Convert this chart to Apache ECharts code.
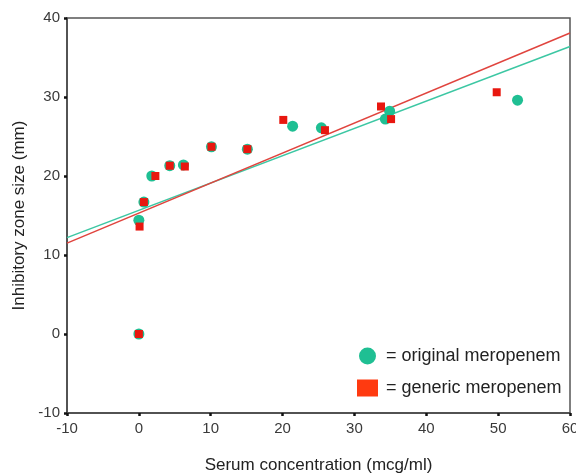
<!DOCTYPE html>
<html><head><meta charset="utf-8">
<script src="https://cdn.jsdelivr.net/npm/echarts@6/dist/echarts.min.js"></script>
<style>html,body{margin:0;padding:0;background:#fff}#c{width:576px;height:475px}</style>
</head><body><div id="c"></div>
<script>
// Original meropenem [serum concentration, zone size]
const originalX = [0, 0, 0.7, 1.8, 4.3, 6.2, 10.1, 15.1, 21.4, 25.4, 34.9, 34.3, 52.7];
const originalY = [0, 14.4, 16.7, 20.0, 21.3, 21.4, 23.7, 23.4, 26.3, 26.1, 28.2, 27.2, 29.6];
// Generic meropenem
const genericX = [0, 0.1, 0.7, 2.3, 4.3, 6.4, 10.1, 15.1, 20.1, 25.9, 33.7, 35.1, 49.8];
const genericY = [0, 13.6, 16.7, 20.0, 21.3, 21.2, 23.7, 23.4, 27.1, 25.8, 28.8, 27.2, 30.6];
// Fit line endpoints
const originalFitX = [-10, 60];
const originalFitY = [12.2, 36.4];
const genericFitX = [-10, 60];
const genericFitY = [11.5, 38.1];
const xTicks = [-10, 0, 10, 20, 30, 40, 50, 60];
const yTicks = [-10, 0, 10, 20, 30, 40];

const GREEN = '#1fbf93', RED = '#e8170f';
const zip = (a, b) => a.map((v, i) => [v, b[i]]);

const chart = echarts.init(document.getElementById('c'), null, {renderer: 'canvas'});
chart.setOption({
  animation: false,
  backgroundColor: '#fff',
  textStyle: {fontFamily: 'Liberation Sans, Arial, sans-serif'},
  grid: {left: 67, right: 6, top: 18, bottom: 62, show: true, borderColor: '#555', borderWidth: 1.5,
         containLabel: false, outerBoundsMode: 'none'},
  legend: {
    orient: 'vertical', left: 352, top: 342, itemGap: 14, itemWidth: 21, itemHeight: 17,
    data: [
      {name: 'original meropenem', icon: 'circle', itemStyle: {color: GREEN}},
      {name: 'generic meropenem', icon: 'rect', itemStyle: {color: '#ff3a10'}}
    ],
    formatter: n => '= ' + n,
    textStyle: {fontSize: 18, lineHeight: 18, color: '#222', padding: [0, 0, 0, 3]}
  },
  xAxis: {
    type: 'value', min: xTicks[0], max: xTicks[xTicks.length - 1], interval: 10,
    name: 'Serum concentration (mcg/ml)', nameLocation: 'middle', nameGap: 44,
    nameTextStyle: {fontSize: 17, color: '#222'},
    axisLine: {show: true, onZero: false, lineStyle: {color: '#444', width: 1.5}},
    axisTick: {show: true, length: 3, lineStyle: {color: '#111', width: 2.5}},
    axisLabel: {fontSize: 15, color: '#3a3a3a', margin: 8},
    splitLine: {show: false}
  },
  yAxis: {
    type: 'value', min: yTicks[0], max: yTicks[yTicks.length - 1], interval: 10,
    name: 'Inhibitory zone size (mm)', nameLocation: 'middle', nameGap: 37,
    nameTextStyle: {fontSize: 17, color: '#222'},
    axisLine: {show: true, onZero: false, lineStyle: {color: '#444', width: 1.5}},
    axisTick: {show: true, length: 3, lineStyle: {color: '#111', width: 2.5}},
    axisLabel: {fontSize: 15, color: '#3a3a3a', margin: 7},
    splitLine: {show: false}
  },
  series: [
    {name: 'original meropenem fit', type: 'line', data: zip(originalFitX, originalFitY), showSymbol: false,
     lineStyle: {color: '#3cc7a3', width: 1.5}, z: 2, silent: true},
    {name: 'generic meropenem fit', type: 'line', data: zip(genericFitX, genericFitY), showSymbol: false,
     lineStyle: {color: '#e0443e', width: 1.5}, z: 2, silent: true},
    {name: 'original meropenem', type: 'scatter', data: zip(originalX, originalY), symbol: 'circle', symbolSize: 11,
     itemStyle: {color: GREEN, opacity: 1}, z: 3},
    {name: 'generic meropenem', type: 'scatter', data: zip(genericX, genericY), symbol: 'rect', symbolSize: 8,
     itemStyle: {color: RED, opacity: 1}, z: 4}
  ]
});
</script></body></html>
